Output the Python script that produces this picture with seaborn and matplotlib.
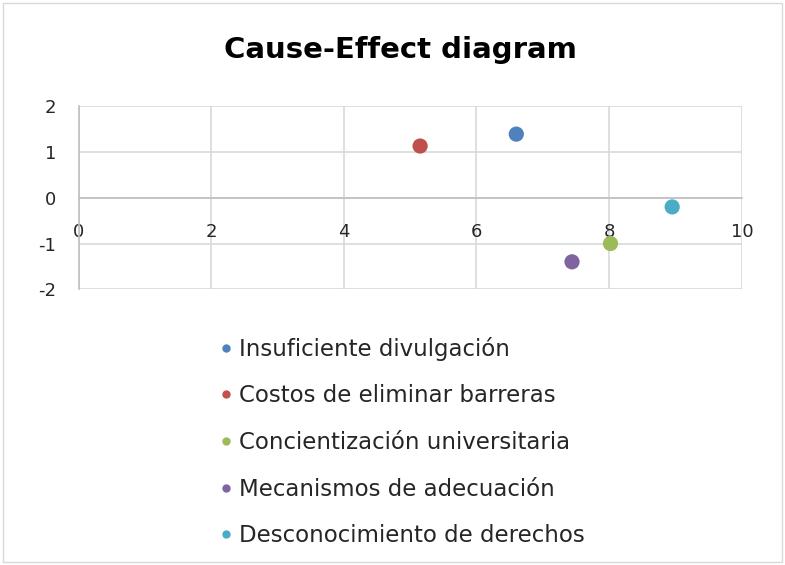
import numpy as np
import pandas as pd
import matplotlib.pyplot as plt
import matplotlib.patches as mpatches
import seaborn as sns

# data
causes = [
    "Insuficiente divulgación",
    "Costos de eliminar barreras",
    "Concientización universitaria",
    "Mecanismos de adecuación",
    "Desconocimiento de derechos",
]
x_vals = [6.6, 5.15, 8.02, 7.44, 8.95]
y_vals = [1.39, 1.13, -1.0, -1.4, -0.2]
colors = ["#4F81BD", "#C0504D", "#9BBB59", "#8064A2", "#4BACC6"]
x_ticks = [0, 2, 4, 6, 8, 10]
y_ticks = [-2, -1, 0, 1, 2]

df = pd.DataFrame({"cause": causes, "x": x_vals, "y": y_vals})

sns.set_style("white")
plt.rcParams["font.family"] = ["DejaVu Sans"]
plt.rcParams["axes.unicode_minus"] = False

fig = plt.figure(figsize=(7.85, 5.65), dpi=100)
ax = fig.add_axes([0.100, 0.488, 0.845, 0.324])

sns.scatterplot(
    data=df, x="x", y="y", hue="cause", palette=colors,
    s=120, edgecolor="none", ax=ax, legend=False,
)

ax.set_xlim(0, 10)
ax.set_ylim(-2, 2)
ax.set_xticks(x_ticks)
ax.set_yticks(y_ticks)
ax.grid(True, color="#D9D9D9", lw=1.2)
ax.set_axisbelow(True)
for side in ["top", "right"]:
    ax.spines[side].set_visible(False)
ax.spines["bottom"].set_position(("data", 0))
for side in ["bottom", "left"]:
    ax.spines[side].set_color("#BFBFBF")
    ax.spines[side].set_linewidth(1.2)
ax.tick_params(axis="both", length=0, labelsize=13, labelcolor="#262626")
ax.tick_params(axis="x", pad=18)
ax.tick_params(axis="y", pad=16)
ax.set_xlabel("")
ax.set_ylabel("")

fig.text(0.51, 0.912, "Cause-Effect diagram", ha="center", va="center",
         fontsize=21, fontweight="bold", color="#000000")

handles = [
    plt.Line2D([], [], marker="o", ls="", color=c, markersize=5)
    for c in colors
]
fig.legend(handles, causes, loc="upper left", bbox_to_anchor=(0.262, 0.42),
           frameon=False, fontsize=16.5, handletextpad=0.05, labelspacing=1.03,
           handlelength=1.0, borderaxespad=0, labelcolor="#262626")

fig.patches.append(mpatches.Rectangle((0.004, 0.005), 0.992, 0.99, transform=fig.transFigure,
                                      fill=False, edgecolor="#D9D9D9", lw=1))

plt.savefig("out.png", dpi=100)
